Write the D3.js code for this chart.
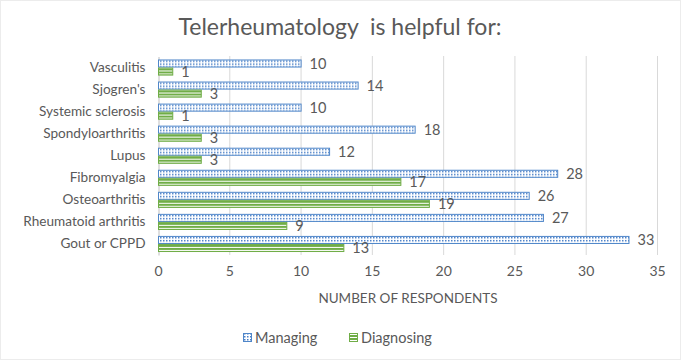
<!DOCTYPE html>
<html><head><meta charset="utf-8">
<script src="https://d3js.org/d3.v7.min.js"></script>
<style>body{margin:0;background:#fff;}svg{display:block;}</style>
</head><body>
<script>
const categories = ["Vasculitis","Sjogren's","Systemic sclerosis","Spondyloarthritis","Lupus","Fibromyalgia","Osteoarthritis","Rheumatoid arthritis","Gout or CPPD"];
const managing = [10,14,10,18,12,28,26,27,33];
const diagnosing = [1,3,1,3,3,17,19,9,13];
const seriesNames = ["Managing","Diagnosing"];
const xTicks = [0,5,10,15,20,25,30,35];

const W=681,H=360;
const font="Lato, 'Open Sans', sans-serif";
const grey="#595959";
const svg=d3.select("body").append("svg").attr("width",W).attr("height",H);
const defs=svg.append("defs");
const pd=defs.append("pattern").attr("id","dots").attr("patternUnits","userSpaceOnUse").attr("width",3).attr("height",3);
pd.append("rect").attr("width",3).attr("height",3).attr("fill","#fff");
pd.append("rect").attr("x",1).attr("y",1).attr("width",1.5).attr("height",1.5).attr("fill","#4a80c8");
const ph=defs.append("pattern").attr("id","hlines").attr("patternUnits","userSpaceOnUse").attr("width",4).attr("height",3);
ph.append("rect").attr("width",4).attr("height",3).attr("fill","#fff");
ph.append("rect").attr("y",0).attr("width",4).attr("height",2).attr("fill","#70ad47");

svg.append("rect").attr("x",0.5).attr("y",0.5).attr("width",W-1).attr("height",H-1).attr("fill","none").attr("stroke","#d9d9d9").attr("stroke-dasharray","1,1");

const x=d3.scaleLinear().domain([0,35]).range([158,657]);
const y=d3.scaleBand().domain(categories).range([56.5,255]).paddingInner(0.27).paddingOuter(0.135);
const ySub=d3.scaleBand().domain(seriesNames).range([0,y.bandwidth()]);

svg.append("g").selectAll("line").data(xTicks.slice(1)).join("line")
  .attr("x1",d=>x(d)+0.5).attr("x2",d=>x(d)+0.5).attr("y1",56).attr("y2",255)
  .attr("stroke","#d9d9d9").attr("stroke-width",1);

const xa=svg.append("g").attr("transform","translate(0,255)")
  .call(d3.axisBottom(x).tickValues(xTicks).tickSize(0).tickPadding(11));
xa.select(".domain").remove();
xa.selectAll("text").attr("fill",grey).style("font-family",font).style("font-size","14px");

const ya=svg.append("g").attr("transform","translate(158.5,0)")
  .call(d3.axisLeft(y).tickSize(0).tickPadding(13));
ya.select(".domain").attr("stroke","#bfbfbf");
ya.selectAll("text").attr("fill",grey).style("font-family",font).style("font-size","13.6px");

const data=categories.map((c,i)=>({c,vals:[{s:"Managing",v:managing[i]},{s:"Diagnosing",v:diagnosing[i]}]}));
const g=svg.append("g").selectAll("g").data(data).join("g").attr("transform",d=>`translate(0,${y(d.c)})`);
g.selectAll("rect").data(d=>d.vals).join("rect")
  .attr("x",x(0)+0.5).attr("y",d=>ySub(d.s)+0.5)
  .attr("width",d=>x(d.v)-x(0)).attr("height",ySub.bandwidth()-1)
  .attr("fill",d=>d.s==="Managing"?"url(#dots)":"url(#hlines)")
  .attr("stroke",d=>d.s==="Managing"?"#4f86c9":"#70ad47").attr("stroke-width",1);
g.selectAll("text").data(d=>d.vals).join("text")
  .attr("x",d=>x(d.v)+9).attr("y",d=>ySub(d.s)+ySub.bandwidth()/2)
  .attr("dy","0.36em").attr("fill",grey).style("font-family",font).style("font-size","14.5px")
  .text(d=>d.v);

svg.append("text").attr("x",340).attr("y",35).attr("text-anchor","middle").attr("fill",grey)
  .attr("xml:space","preserve").style("white-space","pre")
  .style("font-family",font).style("font-size","23px").text("Telerheumatology  is helpful for:");
svg.append("text").attr("x",408).attr("y",303).attr("text-anchor","middle").attr("fill",grey)
  .style("font-family",font).style("font-size","13.5px").text("NUMBER OF RESPONDENTS");

const leg=svg.append("g").attr("transform","translate(0,338)");
const lx=[243,349];
seriesNames.forEach((s,i)=>{
  leg.append("rect").attr("x",lx[i]+0.5).attr("y",-4.5).attr("width",8).attr("height",8)
    .attr("fill",s==="Managing"?"url(#dots)":"url(#hlines)").attr("stroke",s==="Managing"?"#4f86c9":"#70ad47");
  leg.append("text").attr("x",lx[i]+12).attr("y",0).attr("dy","0.36em").attr("fill",grey)
    .style("font-family",font).style("font-size","14.5px").text(s);
});
</script>
</body></html>
